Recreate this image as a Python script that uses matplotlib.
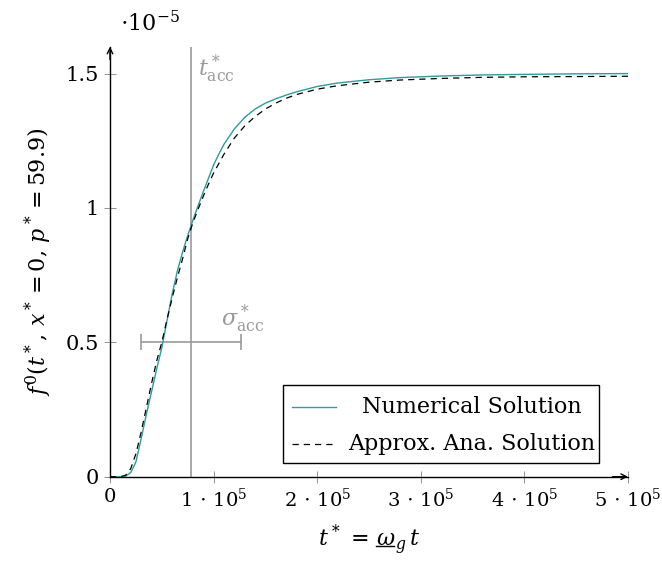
import matplotlib
matplotlib.use("Agg")
import matplotlib.pyplot as plt
from matplotlib.lines import Line2D
from matplotlib.patches import Rectangle

plt.rcParams['font.family'] = ['DejaVu Serif']
plt.rcParams['mathtext.fontset'] = 'dejavuserif'

# values in units of 1e4 (time) and 1e-5 (f0)
t_num = [0, 1.0, 1.5, 2.0, 2.5, 3.0, 3.5, 4.0, 4.5, 5.0, 5.5, 6.0, 6.5, 7.0, 7.5,
         8.0, 8.5, 9.0, 9.5, 10, 10.5, 11, 12, 13, 14, 15, 16, 17, 18, 20, 22,
         25, 28, 32, 36, 40, 45, 50]
f_num = [0, 0.0, 0.002, 0.015, 0.055, 0.14, 0.23, 0.315, 0.40, 0.48, 0.58, 0.68,
         0.765, 0.835, 0.897, 0.955, 1.008, 1.06, 1.11, 1.16, 1.20, 1.237, 1.294,
         1.337, 1.368, 1.39, 1.406, 1.42, 1.432, 1.452, 1.465, 1.477, 1.485,
         1.491, 1.495, 1.497, 1.499, 1.5]

t_ana = [0, 1.0, 1.5, 2.0, 2.5, 3.0, 3.5, 4.0, 4.5, 5.0, 5.5, 6.0, 6.5, 7.0, 7.5,
         8.0, 8.5, 9.0, 9.5, 10, 11, 12, 13, 14, 15, 16, 17, 18, 20, 22, 25, 28,
         32, 36, 40, 45, 50]
f_ana = [0, 0.0, 0.005, 0.03, 0.085, 0.165, 0.255, 0.345, 0.43, 0.5, 0.585,
         0.665, 0.74, 0.81, 0.885, 0.945, 0.995, 1.043, 1.088, 1.13, 1.2, 1.26,
         1.305, 1.34, 1.368, 1.39, 1.408, 1.422, 1.442, 1.455, 1.468, 1.476,
         1.482, 1.486, 1.488, 1.489, 1.49]

t_acc = 7.82
sigma_acc = 4.87
x_ticks = [0, 10, 20, 30, 40, 50]
x_labels = ['0', r'$1\,\cdot\,10^5$', r'$2\,\cdot\,10^5$', r'$3\,\cdot\,10^5$',
            r'$4\,\cdot\,10^5$', r'$5\,\cdot\,10^5$']
y_ticks = [0, 0.5, 1, 1.5]
y_labels = ['0', '0.5', '1', '1.5']

teal = '#2e9c9c'
gray = '#9a9a9a'

fig = plt.figure(figsize=(6.62, 5.72), dpi=100)
ax = fig.add_axes([110 / 662, 95.3 / 572, 518 / 662, 430 / 572])

ax.plot(t_num, f_num, color=teal, lw=1.0, zorder=3)
ax.plot(t_ana, f_ana, color='black', lw=0.9, dashes=(5, 4), zorder=3)

# acceleration time and spread
ax.axvline(t_acc, color=gray, lw=1.2, zorder=2)
ax.errorbar([t_acc], [0.5], xerr=[sigma_acc], color=gray, lw=1.2,
            capsize=6, capthick=1.2, zorder=2)
ax.text(t_acc + 0.7, 1.49, r'$t^*_{\mathrm{acc}}$', color=gray, fontsize=16,
        va='baseline')
ax.text(t_acc + 2.9, 0.56, r'$\sigma^*_{\mathrm{acc}}$', color=gray, fontsize=16,
        va='baseline')

ax.set_xlim(0, 50)
ax.set_ylim(0, 1.6)
ax.set_xticks(x_ticks)
ax.set_xticklabels(x_labels)
ax.set_yticks(y_ticks)
ax.set_yticklabels(y_labels)
ax.tick_params(direction='inout', length=8, width=0.6, color='#808080',
               labelsize=15, pad=4)
ax.tick_params(axis='x', labelsize=14)
for s in ['top', 'right']:
    ax.spines[s].set_visible(False)
for s in ['left', 'bottom']:
    ax.spines[s].set_linewidth(1.0)

# axis arrows
ax.annotate('', xy=(1.0, 0), xytext=(0.97, 0), xycoords='axes fraction',
            arrowprops=dict(arrowstyle='->', color='black', lw=1.0,
                            shrinkA=0, shrinkB=0))
ax.annotate('', xy=(0, 1.0), xytext=(0, 0.97), xycoords='axes fraction',
            arrowprops=dict(arrowstyle='->', color='black', lw=1.0,
                            shrinkA=0, shrinkB=0))

ax.text(0.02, 1.035, r'$\cdot10^{-5}$', transform=ax.transAxes, fontsize=16,
        va='baseline')

ax.set_ylabel(r'$f^0(t^*,\, x^* = 0,\, p^* = 59.9)$', fontsize=16, labelpad=8)
xl = ax.set_xlabel(r'$t^*\, =\, \omega_g\, t$', fontsize=16, labelpad=8)

# manual legend with centred entries
ax.add_patch(Rectangle((0.334, 0.031), 0.61, 0.182, transform=ax.transAxes,
                       facecolor='white', edgecolor='black', lw=1.0, zorder=5))
ax.add_line(Line2D([0.351, 0.436], [0.162, 0.162], transform=ax.transAxes,
                   color=teal, lw=1.0, zorder=6))
ax.add_line(Line2D([0.351, 0.436], [0.077, 0.077], transform=ax.transAxes,
                   color='black', lw=0.9, dashes=(5, 4), zorder=6))
ax.text(0.698, 0.162, 'Numerical Solution', transform=ax.transAxes,
        fontsize=16, ha='center', va='center', zorder=6)
ax.text(0.698, 0.077, 'Approx. Ana. Solution', transform=ax.transAxes,
        fontsize=16, ha='center', va='center', zorder=6)

# underline below omega in the x label
fig.canvas.draw()
bb = xl.get_window_extent()
w = bb.x1 - bb.x0
h = bb.y1 - bb.y0
x0 = bb.x0 + 0.57 * w
x1 = bb.x0 + 0.74 * w
yline = bb.y0 + 0.30 * h
fig.add_artist(Line2D([x0 / 662, x1 / 662], [yline / 572, yline / 572],
                      transform=fig.transFigure, color='black', lw=1.0))

fig.savefig('out.png', dpi=100)
